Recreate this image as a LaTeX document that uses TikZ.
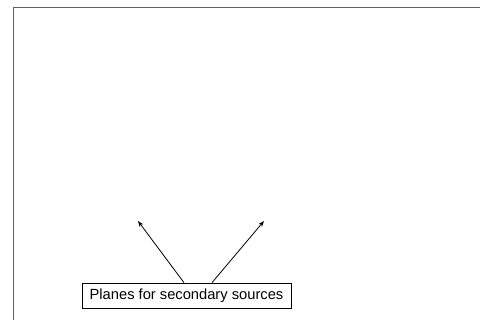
\documentclass[tikz,border=0pt]{standalone}
\usepackage{fontspec}
\setmainfont{Liberation Sans}
\usetikzlibrary{arrows.meta}
\begin{document}
\begin{tikzpicture}[x=1pt,y=-1pt,
  frameline/.style={draw=black!62,line width=1.4pt},
  labelbox/.style={draw=black,line width=0.7pt,minimum width=209pt,minimum height=25pt,inner sep=0pt,font=\fontsize{14.7}{17}\selectfont},
  pointer/.style={draw=black,line width=0.8pt,-{Stealth[length=6pt,width=4.5pt]}}]
\useasboundingbox (0,0) rectangle (480,320);
\fill[white] (0,0) rectangle (480,320);
\coordinate (fbl) at (13.5,322);
\coordinate (ftl) at (13.5,7.5);
\coordinate (ftr) at (482,7.5);
\draw[frameline] (fbl) -- (ftl) -- (ftr);
\node[labelbox] (lab) at (186.5,295.5) {Planes for secondary sources};
\coordinate (t1) at (138,221);
\coordinate (t2) at (264,221);
\draw[pointer] ([xshift=-2.5pt]lab.north) -- (t1);
\draw[pointer] ([xshift=25.5pt]lab.north) -- (t2);
\end{tikzpicture}
\end{document}
